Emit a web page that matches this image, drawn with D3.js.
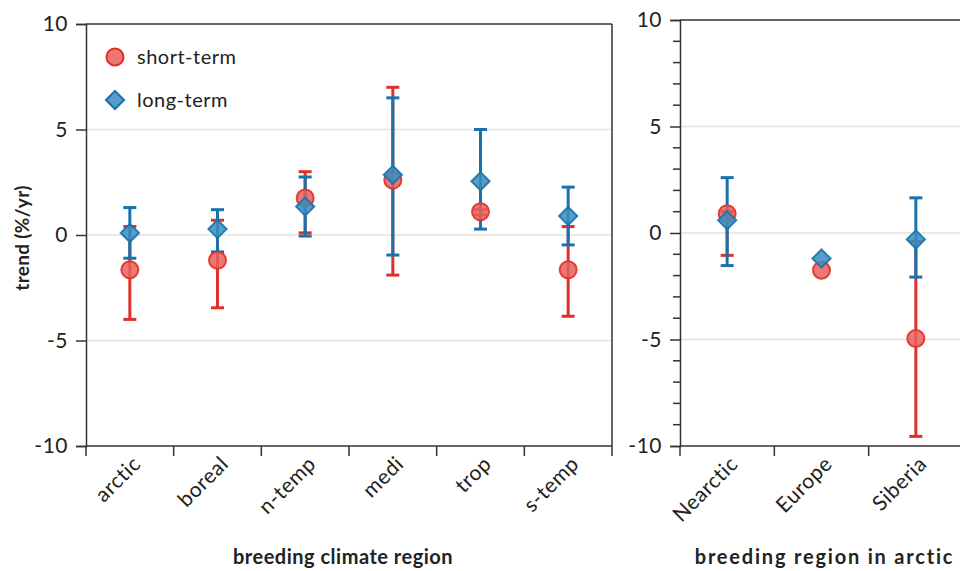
<!DOCTYPE html>
<html>
<head>
<meta charset="utf-8">
<script src="https://cdn.jsdelivr.net/npm/d3@7"></script>
<style>
  body { margin: 0; background: #fff; }
  svg { font-family: Lato, "Open Sans", sans-serif; }
</style>
</head>
<body>
<svg id="chart" width="960" height="571"></svg>
<script>
// climate regions (left panel)
var climateRegions = ["arctic", "boreal", "n-temp", "medi", "trop", "s-temp"];
var climateShort = [-1.65, -1.2, 1.75, 2.6, 1.1, -1.65];
var climateShortLo = [-4.0, -3.45, 0.1, -1.9, 0.95, -3.85];
var climateShortHi = [0.4, 0.7, 3.0, 7.0, 1.2, 0.4];
var climateLong = [0.1, 0.28, 1.35, 2.85, 2.55, 0.9];
var climateLongLo = [-1.1, -0.8, -0.05, -0.95, 0.28, -0.47];
var climateLongHi = [1.3, 1.2, 2.75, 6.5, 5.0, 2.27];

// arctic regions (right panel)
var arcticRegions = ["Nearctic", "Europe", "Siberia"];
var arcticShort = [0.9, -1.75, -4.95];
var arcticShortLo = [-1.05, null, -9.55];
var arcticShortHi = [1.0, null, -0.4];
var arcticLong = [0.6, -1.2, -0.3];
var arcticLongLo = [-1.53, null, -2.07];
var arcticLongHi = [2.6, null, 1.65];

var yTicks = [-10, -5, 0, 5, 10];
var gridVals = [-5, 0, 5];

var RED = "#e0302a", RED_FILL = "#e8605a";
var BLUE = "#1a72ad", BLUE_FILL = "#3a8cc0";

var svg = d3.select("#chart");

function rows(cats, s, sLo, sHi, l, lLo, lHi) {
  return cats.map(function(c, i) {
    return { cat: c, s: s[i], sLo: sLo[i], sHi: sHi[i], l: l[i], lLo: lLo[i], lHi: lHi[i] };
  });
}

function panel(opt) {
  var data = rows.apply(null, opt.data);
  var x = d3.scaleBand().domain(opt.cats).range([opt.x0, opt.x1]);
  var y = d3.scaleLinear().domain([-10, 10]).range([opt.yb, opt.yt]);
  var g = svg.append("g");

  // grid
  g.selectAll(".grid").data(gridVals).enter().append("line")
    .attr("x1", opt.x0).attr("x2", opt.gridEnd)
    .attr("y1", function(d) { return y(d); }).attr("y2", function(d) { return y(d); })
    .attr("stroke", "#e2e2e2").attr("stroke-width", 1.5);

  // frame
  g.append("line").attr("x1", opt.x0).attr("x2", opt.gridEnd)
    .attr("y1", opt.yt).attr("y2", opt.yt).attr("stroke", "#333").attr("stroke-width", 1.5);
  if (opt.rightBorder) {
    g.append("line").attr("x1", opt.x1).attr("x2", opt.x1)
      .attr("y1", opt.yt).attr("y2", opt.yb).attr("stroke", "#333").attr("stroke-width", 1.5);
  }

  // y axis
  var yAxis = d3.axisLeft(y).tickValues(yTicks).tickSize(10).tickPadding(8)
    .tickFormat(function(d) { return String(d); });
  var ya = g.append("g").attr("transform", "translate(" + opt.x0 + ",0)").call(yAxis);
  if (opt.minor) {
    var minor = d3.range(-9, 10).filter(function(v) { return v % 5 !== 0; });
    ya.selectAll(".minor").data(minor).enter().append("line")
      .attr("x1", -7).attr("x2", 0)
      .attr("y1", function(d) { return y(d); }).attr("y2", function(d) { return y(d); })
      .attr("stroke", "#333").attr("stroke-width", 1.5);
  }
  ya.select(".domain").attr("stroke", "#333").attr("stroke-width", 1.5);
  ya.selectAll(".tick line").attr("stroke", "#333").attr("stroke-width", 1.5);
  ya.selectAll(".tick text").attr("font-size", 21).attr("fill", "#222")
    .attr("font-family", "Lato, sans-serif").attr("letter-spacing", 0.5);

  // x axis, ticks at band edges
  var xa = g.append("g").attr("transform", "translate(0," + opt.yb + ")");
  xa.append("line").attr("x1", opt.x0).attr("x2", opt.x1 + (opt.rightBorder ? 0 : 20))
    .attr("stroke", "#333").attr("stroke-width", 1.5);
  var edges = opt.cats.map(function(c) { return x(c); }).concat([opt.x1]);
  xa.selectAll(".edge").data(edges).enter().append("line")
    .attr("x1", function(d) { return d; }).attr("x2", function(d) { return d; })
    .attr("y1", 0).attr("y2", 10).attr("stroke", "#333").attr("stroke-width", 1.5);
  xa.selectAll(".lab").data(opt.cats).enter().append("text")
    .attr("transform", function(d) {
      return "translate(" + (x(d) + x.bandwidth() / 2 + 1) + ",8) rotate(-45)";
    })
    .attr("text-anchor", "end").attr("dy", "0.75em")
    .attr("font-size", 21).attr("letter-spacing", 0.6).attr("fill", "#222")
    .text(function(d) { return d; });

  // axis title
  g.append("text").attr("x", (opt.x0 + opt.x1) / 2 + opt.titleShift).attr("y", 564)
    .attr("text-anchor", "middle").attr("font-size", 20).attr("letter-spacing", opt.titleSpacing)
    .attr("font-weight", "bold").attr("fill", "#222").text(opt.title);

  var cx = function(d) { return x(d.cat) + x.bandwidth() / 2; };
  var cap = 6.5;

  function bars(lo, hi, color) {
    var b = data.filter(function(d) { return d[lo] != null; });
    var eg = g.append("g").attr("stroke", color).attr("stroke-width", 3);
    eg.selectAll(".v").data(b).enter().append("line")
      .attr("x1", cx).attr("x2", cx)
      .attr("y1", function(d) { return y(d[lo]); }).attr("y2", function(d) { return y(d[hi]); });
    [lo, hi].forEach(function(k) {
      eg.selectAll(".c" + k).data(b).enter().append("line")
        .attr("x1", function(d) { return cx(d) - cap; }).attr("x2", function(d) { return cx(d) + cap; })
        .attr("y1", function(d) { return y(d[k]); }).attr("y2", function(d) { return y(d[k]); });
    });
  }
  bars("sLo", "sHi", RED);
  bars("lLo", "lHi", BLUE);

  g.selectAll(".pt").data(data).enter().append("circle")
    .attr("cx", cx).attr("cy", function(d) { return y(d.s); }).attr("r", 8.5)
    .attr("fill", RED_FILL).attr("fill-opacity", 0.85)
    .attr("stroke", RED).attr("stroke-opacity", 0.9).attr("stroke-width", 2);

  var diamond = d3.symbol().type(d3.symbolDiamond2).size(210);
  g.selectAll(".dm").data(data).enter().append("path")
    .attr("d", diamond)
    .attr("transform", function(d) { return "translate(" + cx(d) + "," + y(d.l) + ")"; })
    .attr("fill", BLUE_FILL).attr("fill-opacity", 0.85)
    .attr("stroke", BLUE).attr("stroke-opacity", 0.9).attr("stroke-width", 2);
}

panel({
  cats: climateRegions,
  data: [climateRegions, climateShort, climateShortLo, climateShortHi, climateLong, climateLongLo, climateLongHi],
  x0: 86, x1: 612, yt: 24, yb: 446, gridEnd: 612, rightBorder: true, minor: false,
  title: "breeding climate region", titleShift: -6, titleSpacing: 0.5
});

panel({
  cats: arcticRegions,
  data: [arcticRegions, arcticShort, arcticShortLo, arcticShortHi, arcticLong, arcticLongLo, arcticLongHi],
  x0: 680, x1: 963, yt: 20, yb: 446, gridEnd: 960, rightBorder: false, minor: true,
  title: "breeding region in arctic", titleShift: 3, titleSpacing: 1.8
});

// y title
svg.append("text").attr("transform", "translate(29,238) rotate(-90)")
  .attr("text-anchor", "middle").attr("font-size", 19).attr("font-weight", "bold")
  .attr("letter-spacing", 0.3).attr("fill", "#222").text("trend (%/yr)");

// legend
var legend = svg.append("g");
legend.append("circle").attr("cx", 115).attr("cy", 57).attr("r", 8.5)
  .attr("fill", RED_FILL).attr("fill-opacity", 0.85).attr("stroke", RED).attr("stroke-width", 2);
legend.append("path").attr("d", d3.symbol().type(d3.symbolDiamond2).size(210))
  .attr("transform", "translate(115,100)")
  .attr("fill", BLUE_FILL).attr("fill-opacity", 0.85).attr("stroke", BLUE).attr("stroke-width", 2);
legend.append("text").attr("x", 137).attr("y", 57).attr("dy", "0.35em")
  .attr("font-size", 20).attr("letter-spacing", 0.5).attr("fill", "#222").text("short-term");
legend.append("text").attr("x", 137).attr("y", 100).attr("dy", "0.35em")
  .attr("font-size", 20).attr("letter-spacing", 0.5).attr("fill", "#222").text("long-term");
</script>
</body>
</html>
